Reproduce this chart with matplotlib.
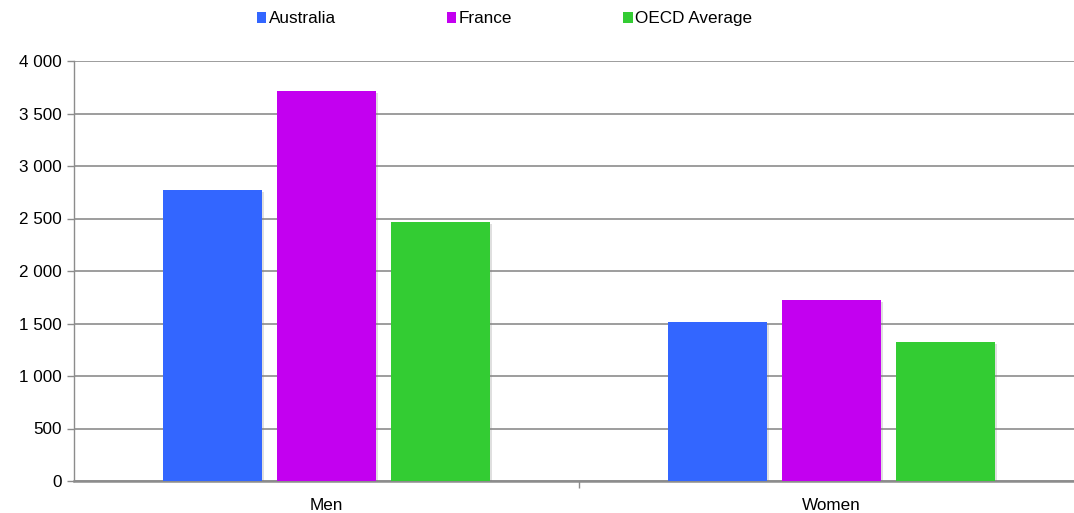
import matplotlib
matplotlib.use("Agg")
import matplotlib.pyplot as plt
from matplotlib.patches import Patch
import matplotlib.patheffects as pe
import numpy as np

plt.rcParams['font.family'] = ['Liberation Sans', 'DejaVu Sans']

categories = ["Men", "Women"]
series_names = ["Australia", "France", "OECD Average"]
australia = [2775, 1517]
france = [3714, 1721]
oecd = [2464, 1327]
colors = ["#3366FF", "#C300F0", "#33CC33"]
yticks = [0, 500, 1000, 1500, 2000, 2500, 3000, 3500, 4000]
ytick_labels = ["0", "500", "1 000", "1 500", "2 000", "2 500", "3 000", "3 500", "4 000"]

W, H = 1074, 513
FS = 12.3
fig = plt.figure(figsize=(W / 100, H / 100), dpi=100)
ax = fig.add_axes([74 / W, (513 - 481) / H, (1074 - 74) / W, (481 - 61) / H])

x = np.arange(len(categories))
bw = 0.196
step = 0.226
shadow = [pe.SimplePatchShadow(offset=(1.5, -1.5), shadow_rgbFace='gray', alpha=0.25), pe.Normal()]
for i, (vals, c) in enumerate(zip([australia, france, oecd], colors)):
    bars = ax.bar(x + (i - 1) * step, vals, width=bw, color=c, zorder=3)
    for b in bars:
        b.set_path_effects(shadow)

ax.set_ylim(0, 4000)
ax.set_xlim(-0.5, -0.5 + 1000 / 505)
ax.set_yticks(yticks)
ax.set_yticklabels(ytick_labels, fontsize=FS)
ax.yaxis.grid(True, color="#8c8c8c", linewidth=1.2, zorder=0)
ax.set_axisbelow(True)
ax.tick_params(axis='y', length=5, color="#8c8c8c", width=1, pad=4)

ax.set_xticks(x)
ax.set_xticklabels(categories, fontsize=FS)
ax.tick_params(axis='x', which='major', length=0, pad=12)
ax.set_xticks([0.5], minor=True)
ax.tick_params(axis='x', which='minor', length=5, color="#8c8c8c", width=1)

for s in ['top', 'right']:
    ax.spines[s].set_visible(False)
ax.spines['left'].set_color("#8c8c8c")
ax.spines['left'].set_linewidth(1)
ax.spines['bottom'].set_color("#8c8c8c")
ax.spines['bottom'].set_linewidth(1.8)

handles = [Patch(facecolor=c, edgecolor='none') for c in colors]
fig.legend(handles, series_names, loc='center', bbox_to_anchor=(504.5 / W, 1 - 19 / H),
           ncol=3, frameon=False, fontsize=FS, handlelength=0.55, handleheight=0.55,
           handletextpad=0.15, columnspacing=6.5, borderpad=0, borderaxespad=0)

fig.savefig("out.png", dpi=100)
